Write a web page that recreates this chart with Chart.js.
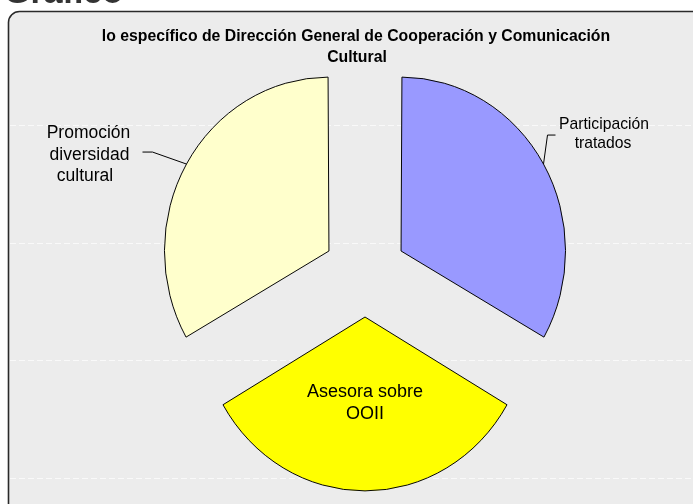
<!DOCTYPE html>
<html><head><meta charset="utf-8">
<script src="https://cdn.jsdelivr.net/npm/chart.js@4.4.0/dist/chart.umd.min.js"></script>
<style>html,body{margin:0;padding:0;background:#fff;overflow:hidden}#wrap{width:693px;height:504px;position:relative}</style>
</head><body><div id="wrap"><canvas id="c" width="693" height="504"></canvas></div>
<script>
// ---- data ----
const categories = ['Participación tratados', 'Asesora sobre OOII', 'Promoción diversidad cultural'];
const labelLines = [['Participación', 'tratados'], ['Asesora sobre', 'OOII'], ['Promoción', 'diversidad', 'cultural']];
const values = [1, 1, 1];
const sliceColors = ['#9999FF', '#FFFF00', '#FFFFCC'];
const titleLines = ['lo específico de Dirección General de Cooperación y Comunicación', 'Cultural'];
const headerText = 'Gráfico';

// ---- style ----
const SX = 0.946;              // horizontal squash of the pie (reference is slightly elliptical)
const FONT = '"Liberation Sans", Arial, sans-serif';

function arcGeom(el) {
  const p = el.getProps(['x', 'y', 'startAngle', 'endAngle', 'outerRadius', 'circumference']);
  const mid = (p.startAngle + p.endAngle) / 2;
  const t = (el.options.offset || 0) / 4;
  const fix = 1 - Math.sin(Math.min(Math.PI, p.circumference));
  const ax = p.x + Math.cos(mid) * t * SX;
  const ay = p.y + Math.sin(mid) * t;
  return { ax, ay, mid, r: p.outerRadius + t * fix };
}

const bgPlugin = {
  id: 'bg',
  beforeDraw(chart) {
    const ctx = chart.ctx;
    ctx.save();
    ctx.fillStyle = '#ffffff';
    ctx.fillRect(0, 0, chart.width, chart.height);
    // frame
    ctx.beginPath();
    ctx.moveTo(8.5, 520);
    ctx.lineTo(8.5, 22);
    ctx.arcTo(8.5, 11.5, 19.5, 11.5, 11);
    ctx.lineTo(720, 11.5);
    ctx.lineTo(720, 520);
    ctx.closePath();
    ctx.fillStyle = '#ECECEC';
    ctx.fill();
    ctx.lineWidth = 1.6;
    ctx.strokeStyle = '#2a2a2a';
    ctx.stroke();
    // faint texture seams
    ctx.strokeStyle = 'rgba(255,255,255,0.7)';
    ctx.lineWidth = 1;
    ctx.setLineDash([6, 3]);
    [125.5, 243.5, 360.5, 478.5].forEach(y => {
      ctx.beginPath(); ctx.moveTo(10, y); ctx.lineTo(693, y); ctx.stroke();
    });
    ctx.setLineDash([]);
    // cut-off header text
    ctx.fillStyle = '#333';
    ctx.font = 'bold 34px ' + FONT;
    ctx.textBaseline = 'alphabetic';
    ctx.textAlign = 'left';
    ctx.fillText(headerText, 4, 2.5);
    // title
    ctx.fillStyle = '#000';
    ctx.font = 'bold 15.8px ' + FONT;
    ctx.textAlign = 'center';
    ctx.fillText(titleLines[0], 356, 40.5);
    ctx.fillText(titleLines[1], 357, 61.5);
    ctx.restore();
  },
  beforeDatasetsDraw(chart) {
    const el = chart.getDatasetMeta(0).data[0];
    const ctx = chart.ctx;
    ctx.save();
    ctx.translate(el.x, el.y);
    ctx.scale(SX, 1);
    ctx.translate(-el.x, -el.y);
  },
  afterDatasetsDraw(chart) {
    chart.ctx.restore();
  },
  afterDraw(chart) {
    const ctx = chart.ctx;
    const els = chart.getDatasetMeta(0).data;
    ctx.save();
    ctx.fillStyle = '#000';
    ctx.strokeStyle = '#000';
    ctx.lineWidth = 1;
    ctx.textAlign = 'center';
    ctx.textBaseline = 'middle';
    // Participación (outside right)
    ctx.font = '15.7px ' + FONT;
    let g = arcGeom(els[0]);
    let sx = g.ax + Math.cos(g.mid) * g.r * SX, sy = g.ay + Math.sin(g.mid) * g.r;
    ctx.beginPath(); ctx.moveTo(sx, sy); ctx.lineTo(sx + 4, sy - 29); ctx.lineTo(sx + 12, sy - 29); ctx.stroke();
    ctx.fillText(labelLines[0][0], 604, 125);
    ctx.fillText(labelLines[0][1], 603, 144);
    // Promoción (outside left)
    ctx.font = '17.5px ' + FONT;
    g = arcGeom(els[2]);
    sx = g.ax + Math.cos(g.mid) * g.r * SX; sy = g.ay + Math.sin(g.mid) * g.r;
    ctx.beginPath(); ctx.moveTo(sx, sy); ctx.lineTo(sx - 34, sy - 12); ctx.lineTo(sx - 44, sy - 12); ctx.stroke();
    ctx.fillText(labelLines[2][0], 88.5, 133);
    ctx.fillText(labelLines[2][1], 89.5, 155);
    ctx.fillText(labelLines[2][2], 85, 176.5);
    // Asesora (inside)
    g = arcGeom(els[1]);
    const lx = g.ax + Math.cos(g.mid) * g.r * 0.5 * SX, ly = g.ay + Math.sin(g.mid) * g.r * 0.5;
    ctx.font = '18px ' + FONT;
    ctx.fillText(labelLines[1][0], lx, ly - 12);
    ctx.fillText(labelLines[1][1], lx, ly + 10);
    ctx.restore();
  }
};

new Chart(document.getElementById('c'), {
  type: 'pie',
  data: {
    labels: categories,
    datasets: [{
      data: values,
      backgroundColor: sliceColors,
      borderColor: '#000',
      borderWidth: 1,
      offset: 176,
      hoverOffset: 176
    }]
  },
  options: {
    responsive: false,
    devicePixelRatio: 1,
    animation: false,
    events: [],
    radius: 168,
    layout: { padding: { left: 37, right: 0, top: 42, bottom: 0 } },
    plugins: { legend: { display: false }, tooltip: { enabled: false }, title: { display: false } }
  },
  plugins: [bgPlugin]
});
</script></body></html>
